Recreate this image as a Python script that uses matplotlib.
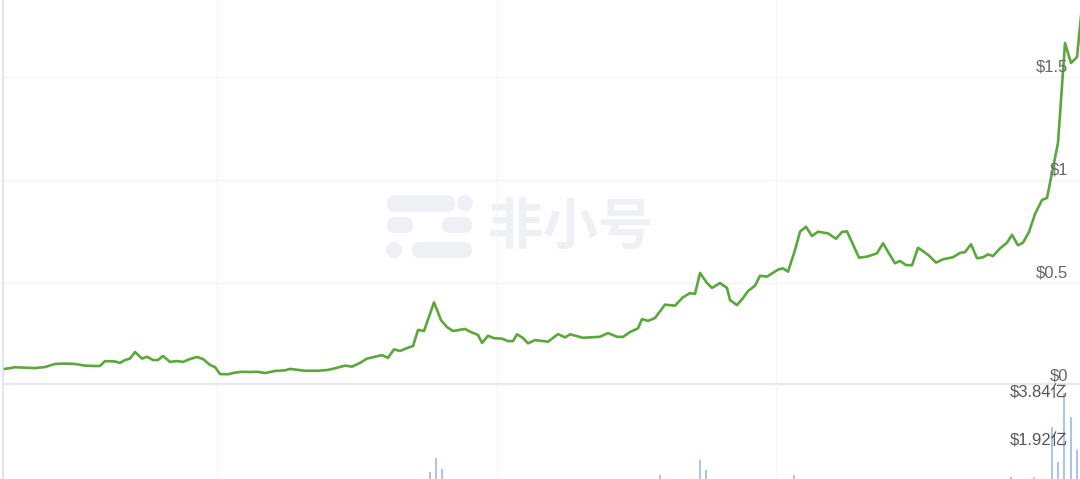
import matplotlib.pyplot as plt
from matplotlib.patches import FancyBboxPatch, Circle
import numpy as np

# Price line (t = time step, price in $)
t = [5, 15, 25, 35, 45, 55, 65, 75, 85, 95, 100, 105, 115, 120, 125, 130, 135, 142, 147, 153,
     158, 163, 170, 177, 183, 190, 197, 203, 210, 215, 220, 228, 235, 242, 250, 258, 265, 275, 285, 290,
     297, 305, 318, 328, 335, 345, 352, 360, 367, 375, 382, 388, 394, 400, 408, 413, 418, 424, 434, 441,
     447, 453, 465, 470, 478, 482, 488, 494, 502, 508, 513, 517, 523, 528, 535, 548, 558, 565, 570, 583,
     600, 608, 617, 623, 630, 638, 642, 648, 655, 665, 675, 683, 690, 695, 700, 707, 712, 720, 727, 730,
     737, 743, 748, 755, 760, 767, 778, 783, 788, 795, 800, 806, 812, 818, 828, 836, 842, 847, 859, 867,
     877, 883, 888, 895, 900, 906, 912, 918, 923, 929, 936, 943, 953, 960, 965, 971, 977, 983, 988, 993,
     1000, 1007, 1012, 1018, 1023, 1029, 1035, 1042, 1047, 1052, 1058, 1061, 1065, 1071, 1077, 1080, 1083]
price = [0.083, 0.091, 0.089, 0.087, 0.092, 0.107, 0.109, 0.107, 0.099, 0.097, 0.097, 0.121, 0.119, 0.112,
         0.126, 0.133, 0.165, 0.133, 0.142, 0.126, 0.126, 0.146, 0.117, 0.121, 0.117, 0.131, 0.141, 0.131,
         0.102, 0.092, 0.058, 0.057, 0.065, 0.069, 0.068, 0.069, 0.063, 0.073, 0.076, 0.083, 0.079, 0.074,
         0.074, 0.078, 0.086, 0.099, 0.094, 0.112, 0.133, 0.142, 0.150, 0.137, 0.178, 0.170, 0.186, 0.194,
         0.272, 0.267, 0.406, 0.320, 0.286, 0.267, 0.277, 0.264, 0.248, 0.209, 0.244, 0.232, 0.230, 0.218,
         0.218, 0.251, 0.233, 0.207, 0.223, 0.215, 0.252, 0.236, 0.251, 0.234, 0.239, 0.257, 0.239, 0.238,
         0.262, 0.280, 0.325, 0.316, 0.330, 0.395, 0.390, 0.431, 0.451, 0.447, 0.549, 0.500, 0.476, 0.500,
         0.476, 0.417, 0.393, 0.427, 0.461, 0.487, 0.535, 0.531, 0.565, 0.571, 0.555, 0.660, 0.749, 0.773,
         0.728, 0.749, 0.741, 0.715, 0.748, 0.751, 0.623, 0.628, 0.644, 0.693, 0.652, 0.596, 0.607, 0.587,
         0.586, 0.671, 0.655, 0.633, 0.599, 0.615, 0.625, 0.646, 0.650, 0.688, 0.620, 0.625, 0.639, 0.631,
         0.668, 0.696, 0.734, 0.683, 0.696, 0.748, 0.835, 0.903, 0.913, 1.034, 1.180, 1.388, 1.665, 1.568,
         1.597, 1.743, 1.898]

# Volume bars that show above the cut-off bottom (in 亿 $)
vol_t = [430, 436, 442, 660, 700, 706, 794, 1011, 1034, 1052, 1058, 1064, 1071, 1077]
vol = [0.7, 1.25, 0.8, 0.56, 1.15, 0.78, 0.56, 0.5, 0.5, 2.48, 1.08, 3.84, 2.88, 1.56]

price_ticks = [0, 0.5, 1, 1.5]
price_labels = ["$0", "$0.5", "$1", "$1.5"]
vol_ticks = [1.92, 3.84]
vol_labels = ["$1.92亿", "$3.84亿"]
grid_t = [217, 497, 776]

W, H = 1080, 479
fig = plt.figure(figsize=(W / 100, H / 100), dpi=100)
fonts = ['Liberation Sans', 'Noto Sans CJK SC', 'DejaVu Sans']

# watermark layer, in pixel units
bg = fig.add_axes([0, 0, 1, 1], zorder=0)
bg.set_xlim(0, W)
bg.set_ylim(H, 0)
bg.axis('off')
wm = '#eef0f5'
pills = [(387, 195, 68, 17), (387, 217, 26, 16), (442, 217, 30, 16), (412, 242, 60, 16)]
for x0, y0, w, h in pills:
    bg.add_patch(FancyBboxPatch((x0, y0), w, h, boxstyle='round,pad=0,rounding_size=%g' % (h / 2),
                                color=wm, lw=0))
for cx, cy in [(465, 203), (394, 250)]:
    bg.add_patch(Circle((cx, cy), 8, color=wm, lw=0))
bg.text(571, 228, "非小号", ha='center', va='center', fontsize=40, fontweight='bold',
        color=wm, family=['Noto Sans CJK SC'])

# price panel
ax = fig.add_axes([3 / W, 1 - 384 / H, 1 - 3 / W, 384 / H], zorder=1)
ax.patch.set_alpha(0)
ax.set_xlim(3, 1080)
ax.set_ylim(0.0097, 1.874)
for v in price_ticks[1:]:
    ax.axhline(v, color='#f4f4f7', lw=1, zorder=0)
for g in grid_t:
    ax.axvline(g, color='#f5f5f8', lw=1, zorder=0)
ax.plot(t, price, color='#5aa83c', lw=1.9, solid_joinstyle='round', zorder=3)
for v, lab in zip(price_ticks, price_labels):
    ax.annotate(lab, xy=(1, v), xycoords=('axes fraction', 'data'), xytext=(-12, 10),
                textcoords='offset pixels', ha='right', va='center', fontsize=12,
                color='#666666', family=fonts, zorder=4)
ax.set_xticks([])
ax.set_yticks([])
for s in ['top', 'right']:
    ax.spines[s].set_visible(False)
ax.spines['left'].set_color('#e2e5f2')
ax.spines['left'].set_linewidth(1.5)
ax.spines['bottom'].set_color('#e6e7ee')
ax.spines['bottom'].set_linewidth(1.5)

# volume panel
axv = fig.add_axes([3 / W, 0, 1 - 3 / W, 95 / H], zorder=1)
axv.patch.set_alpha(0)
axv.set_xlim(3, 1080)
axv.set_ylim(0.4, 4.2)
for g in grid_t:
    axv.axvline(g, color='#f5f5f8', lw=1, zorder=0)
axv.bar(vol_t, vol, width=2.4, color='#a9c5ee', zorder=2)
for v, lab in zip(vol_ticks, vol_labels):
    axv.annotate(lab, xy=(1, v), xycoords=('axes fraction', 'data'), xytext=(-12, 0),
                 textcoords='offset pixels', ha='right', va='center', fontsize=12,
                 color='#555555', family=fonts, zorder=4)
axv.set_xticks([])
axv.set_yticks([])
for s in ['top', 'right', 'bottom']:
    axv.spines[s].set_visible(False)
axv.spines['left'].set_color('#e2e5f2')
axv.spines['left'].set_linewidth(1.5)

plt.savefig("out.png", dpi=100)
